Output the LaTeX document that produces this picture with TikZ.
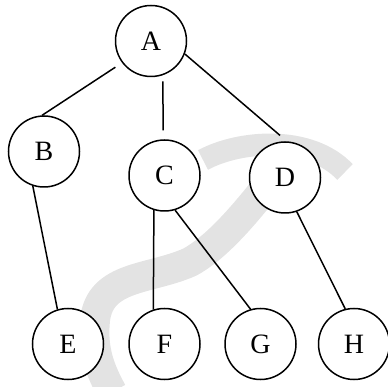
\documentclass[tikz,border=0pt]{standalone}
\usepackage{fontspec}
\setmainfont{Liberation Serif}
\begin{document}
\begin{tikzpicture}[x=1pt,y=-1pt,
  vertex/.style={circle,draw=black,fill=white,line width=1.5pt,minimum size=71pt,inner sep=0pt,
    font=\fontsize{28}{30}\selectfont},
  edge/.style={line width=1.5pt,draw=black},
  wmark/.style={draw=black!11,line cap=butt}]
\useasboundingbox (0,0) rectangle (388,387);
% faint watermark
\draw[wmark,line width=30pt] (300,145) .. controls (270,180) and (230,240) .. (190,262)
  .. controls (150,280) and (100,275) .. (95,320) .. controls (92,350) and (100,370) .. (112,392);
\draw[wmark,line width=22pt] (203,160) .. controls (240,140) and (310,135) .. (345,172);
% nodes
\node[vertex] (A) at (151,41) {A};
\node[vertex] (B) at (44,151.5) {B};
\node[vertex] (C) at (164.5,175.5) {C};
\node[vertex] (D) at (285,177.5) {D};
\node[vertex] (E) at (68,344) {E};
\node[vertex] (F) at (164.5,344) {F};
\node[vertex] (G) at (260.5,344) {G};
\node[vertex] (H) at (354,344) {H};
% edges
\draw[edge,shorten <=8pt] (A.217) -- (B.93);
\draw[edge,shorten <=6pt,shorten >=9pt] (A.-71) -- (C.92);
\draw[edge,shorten >=9pt] (A.-21) -- (D.87);
\draw[edge] (B.-108) -- (E.107);
\draw[edge] (C.-107) -- (F.108);
\draw[edge] (C.-73) -- (G.106);
\draw[edge] (D.-71) -- (H.104);
\end{tikzpicture}
\end{document}
